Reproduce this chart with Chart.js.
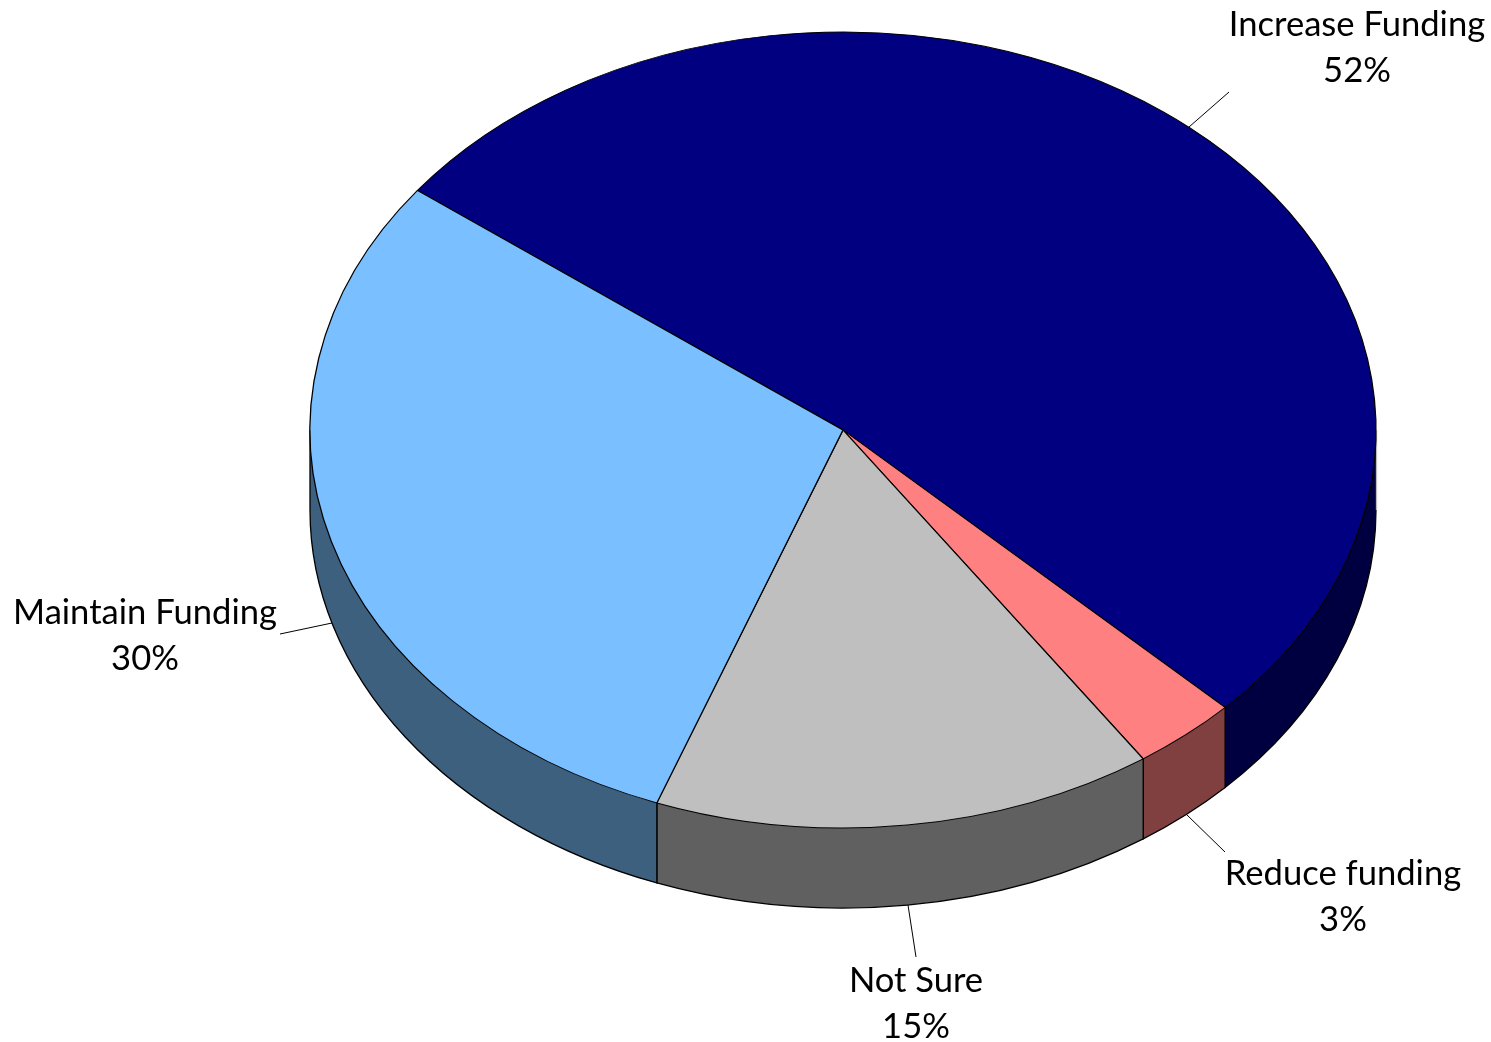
<!DOCTYPE html>
<html>
<head>
<meta charset="utf-8">
<title>Funding</title>
<script src="https://cdn.jsdelivr.net/npm/chart.js@4/dist/chart.umd.min.js"></script>
<style>
html, body { margin: 0; padding: 0; background: #fff; overflow: hidden; }
canvas { display: block; }
</style>
</head>
<body>
<canvas id="pie" width="1491" height="1042"></canvas>
<script>
const categories = ['Increase Funding', 'Reduce funding', 'Not Sure', 'Maintain Funding'];
const shares = [52, 3.2, 15.2, 29.6];
const topColors = ['#000080', '#FF8080', '#BFBFBF', '#7ABFFF'];
const wallColors = ['#000040', '#804040', '#606060', '#3D607F'];

// label centre x, first line y, then the leader line
const labelSpots = [
    { x: 1357, y: 25, line: [1189, 127, 1229, 92] },
    { x: 1343, y: 874, line: [1186, 814, 1225, 852] },
    { x: 916, y: 981, line: [908, 905, 916, 957] },
    { x: 145, y: 613, line: [332, 623, 280, 634] },
];

const tilt = 398 / 533;
const depth = 80;

const pie3d = {
    id: 'pie3d',
    beforeDatasetsDraw(chart) {
        const ctx = chart.ctx;
        const arcs = chart.getDatasetMeta(0).data;
        const cx = arcs[0].x, cy = arcs[0].y;
        const rx = arcs[0].outerRadius, ry = rx * tilt;
        ctx.save();
        ctx.lineWidth = 1.3;
        arcs.forEach((arc, i) => {
            // only the part facing the viewer (0..PI on the canvas) has a wall
            for (let k = -1; k <= 1; k++) {
                const from = k * 2 * Math.PI;
                const a = Math.max(arc.startAngle, from);
                const b = Math.min(arc.endAngle, from + Math.PI);
                if (b <= a) continue;
                ctx.beginPath();
                ctx.ellipse(cx, cy, rx, ry, 0, a, b);
                ctx.ellipse(cx, cy + depth, rx, ry, 0, b, a, true);
                ctx.closePath();
                ctx.fillStyle = wallColors[i];
                ctx.fill();
                // far right edge is only a faint grey line in the original
                if (a === from) {
                    ctx.strokeStyle = '#bbb';
                    ctx.beginPath();
                    ctx.moveTo(cx + rx + 0.5, cy);
                    ctx.lineTo(cx + rx + 0.5, cy + depth);
                    ctx.stroke();
                }
                // bottom rim and seams
                ctx.strokeStyle = '#000';
                ctx.beginPath();
                if (a > from) {
                    ctx.moveTo(cx + rx * Math.cos(a), cy + ry * Math.sin(a));
                }
                ctx.ellipse(cx, cy + depth, rx, ry, 0, a, b);
                ctx.lineTo(cx + rx * Math.cos(b), cy + ry * Math.sin(b));
                ctx.stroke();
            }
        });
        ctx.restore();
        // squash the library's round pie into the tilted disc
        ctx.save();
        ctx.translate(cx, cy);
        ctx.scale(1, tilt);
        ctx.translate(-cx, -cy);
    },
    afterDatasetsDraw(chart) {
        const ctx = chart.ctx;
        ctx.restore();
        ctx.save();
        ctx.font = '34.6px Lato';
        ctx.fillStyle = '#000';
        ctx.textAlign = 'center';
        ctx.textBaseline = 'middle';
        ctx.strokeStyle = '#000';
        ctx.lineWidth = 1;
        categories.forEach((name, i) => {
            const s = labelSpots[i];
            ctx.fillText(name, s.x, s.y);
            ctx.fillText(Math.round(shares[i]) + '%', s.x, s.y + 46);
            ctx.beginPath();
            ctx.moveTo(s.line[0], s.line[1]);
            ctx.lineTo(s.line[2], s.line[3]);
            ctx.stroke();
        });
        ctx.restore();
    }
};

new Chart(document.getElementById('pie').getContext('2d'), {
    type: 'pie',
    data: {
        labels: categories,
        datasets: [{
            data: shares,
            backgroundColor: topColors,
            borderColor: '#000',
            borderWidth: 1.3,
            radius: 533,
            clip: false,
        }],
    },
    options: {
        responsive: false,
        animation: false,
        rotation: -53,
        layout: { padding: { left: 195, bottom: 182 } },
        plugins: { legend: { display: false }, tooltip: { enabled: false } },
    },
    plugins: [pie3d],
});
</script>
</body>
</html>
